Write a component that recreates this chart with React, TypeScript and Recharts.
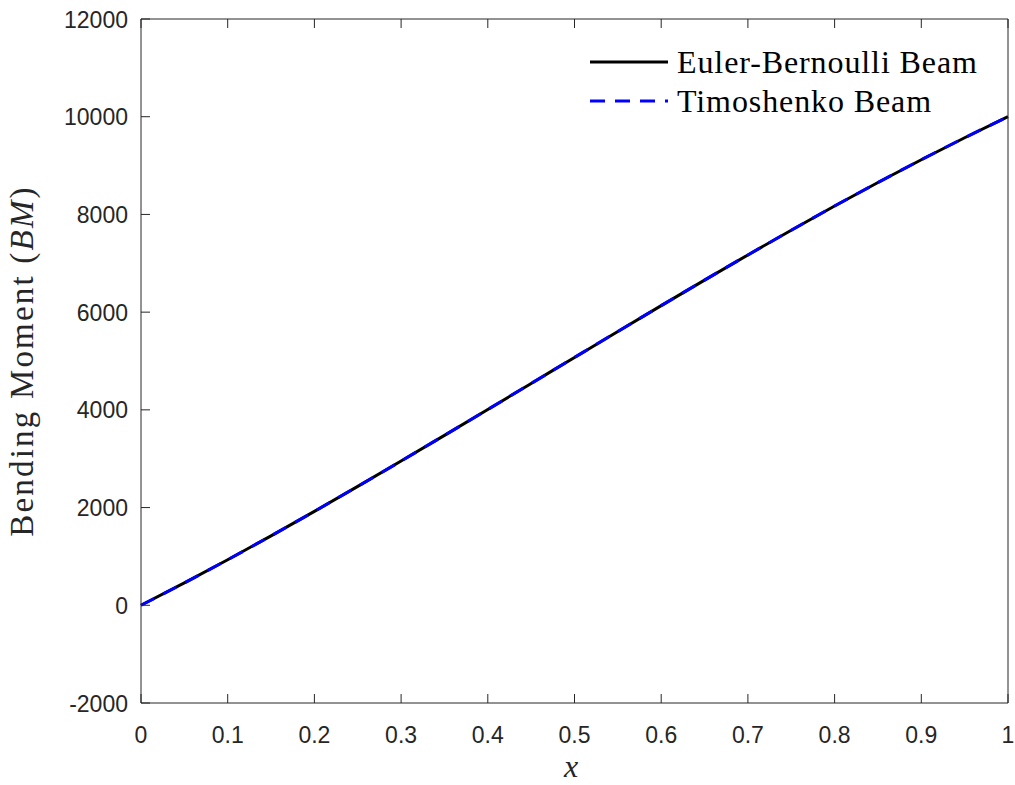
import React from 'react';
import { LineChart, Line, XAxis, YAxis } from 'recharts';

const xValues = [0, 0.05, 0.1, 0.15, 0.2, 0.25, 0.3, 0.35, 0.4, 0.45, 0.5, 0.55, 0.6, 0.65, 0.7, 0.75, 0.8, 0.85, 0.9, 0.95, 1];
const eulerValues = [0, 458, 933, 1421, 1922, 2433, 2952, 3478, 4008, 4540, 5073, 5605, 6133, 6656, 7171, 7677, 8172, 8654, 9120, 9569, 10000];
const timoshenkoValues = [0, 458, 933, 1421, 1922, 2433, 2952, 3478, 4008, 4540, 5073, 5605, 6133, 6656, 7171, 7677, 8172, 8654, 9120, 9569, 10000];
const xTicks = [0, 0.1, 0.2, 0.3, 0.4, 0.5, 0.6, 0.7, 0.8, 0.9, 1];
const yTicks = [-2000, 0, 2000, 4000, 6000, 8000, 10000, 12000];
const seriesNames = ['Euler-Bernoulli Beam', 'Timoshenko Beam'];

const data = xValues.map((x, i) => ({ x, euler: eulerValues[i], timo: timoshenkoValues[i] }));

const AX = '#262626';
const SANS = 'Liberation Sans, Arial, Helvetica, sans-serif';
const SERIF = 'Liberation Serif, Times New Roman, serif';
const TL = 9;

const BottomTick = (p: any) => (
  <g>
    <line x1={p.x} x2={p.x} y1={p.y} y2={p.y - TL} stroke={AX} strokeWidth={1} />
    <text x={p.x} y={p.y + 40} textAnchor="middle" fill={AX} fontFamily={SANS} fontSize={23}>
      {p.payload.value}
    </text>
  </g>
);
const TopTick = (p: any) => (
  <line x1={p.x} x2={p.x} y1={p.y} y2={p.y + TL} stroke={AX} strokeWidth={1} />
);
const LeftTick = (p: any) => (
  <g>
    <line x1={p.x} x2={p.x + TL} y1={p.y} y2={p.y} stroke={AX} strokeWidth={1} />
    <text x={p.x - 13} y={p.y + 8.5} textAnchor="end" fill={AX} fontFamily={SANS} fontSize={23}>
      {p.payload.value}
    </text>
  </g>
);
const RightTick = (p: any) => (
  <line x1={p.x} x2={p.x - TL} y1={p.y} y2={p.y} stroke={AX} strokeWidth={1} />
);

const LegendBox = () => (
  <svg width={400} height={90} style={{ position: 'absolute', left: 588, top: 40 }}>
    <line x1={2} x2={80} y1={22} y2={22} stroke="#000" strokeWidth={3} />
    <text x={89} y={33} fontFamily={SERIF} fontSize={32} letterSpacing={0.9} fill="#000">{seriesNames[0]}</text>
    <line x1={2} x2={80} y1={61} y2={61} stroke="#0000ff" strokeWidth={3} strokeDasharray="15 10" />
    <text x={89} y={72} fontFamily={SERIF} fontSize={32} letterSpacing={0.9} fill="#000">{seriesNames[1]}</text>
  </svg>
);

export default function App() {
  return (
    <div style={{ position: 'absolute', left: 0, top: 0, width: 1015, height: 785, background: '#fff' }}>
      <LineChart width={1015} height={785} data={data} margin={{ top: 18, right: 6, bottom: 0, left: 0 }}>
        <XAxis
          xAxisId="b" dataKey="x" type="number" domain={[0, 1]} ticks={xTicks} orientation="bottom"
          height={82} tickSize={0} tickMargin={0} tickLine={false} tick={<BottomTick />}
          axisLine={{ stroke: AX }} interval={0}
        />
        <XAxis
          xAxisId="t" dataKey="x" type="number" domain={[0, 1]} ticks={xTicks} orientation="top"
          height={1} tickSize={0} tickMargin={0} tickLine={false} tick={<TopTick />}
          axisLine={{ stroke: AX }} interval={0}
        />
        <YAxis
          yAxisId="l" type="number" domain={[-2000, 12000]} ticks={yTicks} orientation="left"
          width={141} tickSize={0} tickMargin={0} tickLine={false} tick={<LeftTick />}
          axisLine={{ stroke: AX }} interval={0}
          label={{
            value: 'Bending Moment (BM)', angle: -90, position: 'insideLeft',
            content: (props: any) => {
              const vb = props.viewBox || {};
              const cy = (vb.y || 0) + (vb.height || 0) / 2;
              return (
                <text x={33} y={cy} transform={`rotate(-90 33 ${cy})`} textAnchor="middle"
                  fontFamily={SERIF} fontSize={33} letterSpacing={2.2} fill={AX}>
                  Bending Moment (<tspan fontStyle="italic">BM</tspan>)
                </text>
              );
            },
          }}
        />
        <YAxis
          yAxisId="r" type="number" domain={[-2000, 12000]} ticks={yTicks} orientation="right"
          width={1} tickSize={0} tickMargin={0} tickLine={false} tick={<RightTick />}
          axisLine={{ stroke: AX }} interval={0}
        />
        <Line xAxisId="b" yAxisId="l" dataKey="euler" name={seriesNames[0]} type="monotone"
          stroke="#000000" strokeWidth={3} dot={false} isAnimationActive={false} />
        <Line xAxisId="b" yAxisId="l" dataKey="timo" name={seriesNames[1]} type="monotone"
          stroke="#0000ff" strokeWidth={3} strokeDasharray="15 10" dot={false} isAnimationActive={false} />
      </LineChart>
      <LegendBox />
      <div style={{ position: 'absolute', left: 564, top: 748, fontFamily: SERIF, fontStyle: 'italic', fontSize: 32, color: AX }}>x</div>
    </div>
  );
}
